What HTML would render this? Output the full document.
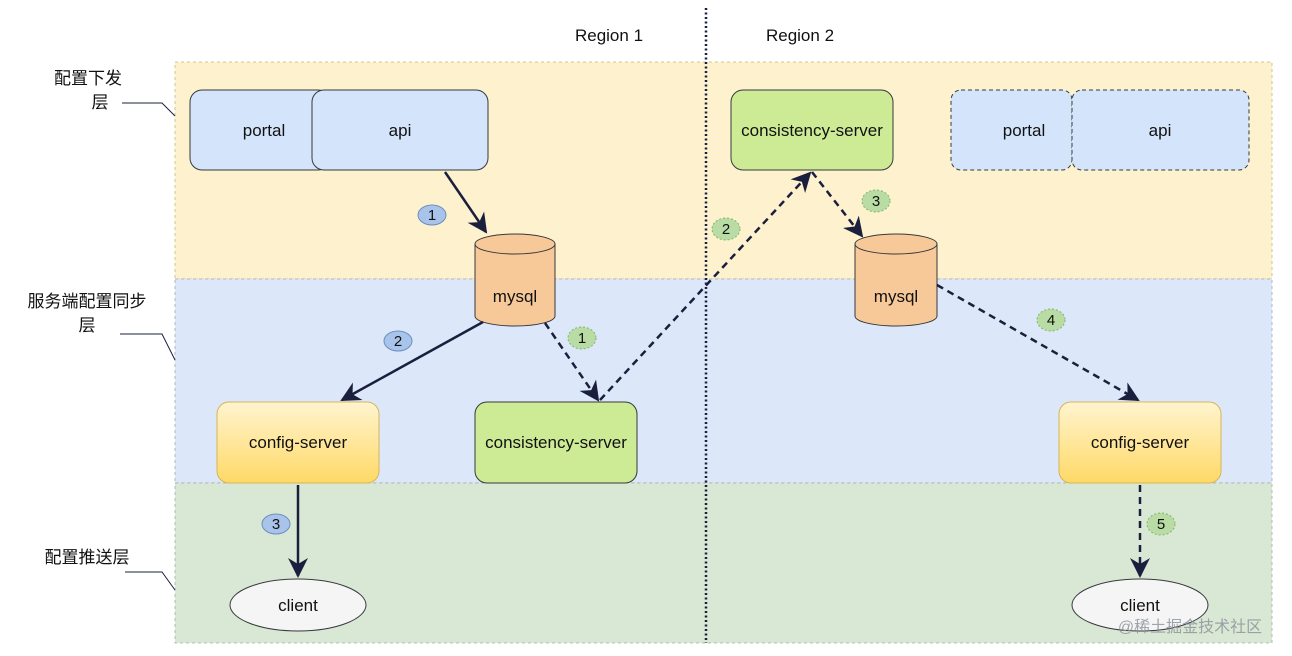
<!DOCTYPE html>
<html><head><meta charset="utf-8"><style>
html,body{margin:0;padding:0;background:#fff;}
svg{display:block;font-family:"Liberation Sans","Noto Sans CJK SC",sans-serif;}
</style></head><body>
<svg width="1292" height="656" viewBox="0 0 1292 656" xmlns="http://www.w3.org/2000/svg">
<defs>
<linearGradient id="cy" x1="0" y1="0" x2="0" y2="1"><stop offset="0" stop-color="#fff4cf"/><stop offset="1" stop-color="#ffd966"/></linearGradient>
<marker id="ah" viewBox="0 0 10 10" refX="9" refY="5" markerWidth="8" markerHeight="8" orient="auto"><path d="M0,0 L10,5 L0,10 L3,5 z" fill="#1a1f3d"/></marker>
</defs>
<rect x="175" y="62" width="1097" height="217" fill="#fdf2cd" stroke="#c8b870" stroke-dasharray="3,3" stroke-width="0.8"/>
<rect x="175" y="279" width="1097" height="204" fill="#dce7f9" stroke="#a0a8b8" stroke-dasharray="3,3" stroke-width="0.8"/>
<rect x="175" y="483" width="1097" height="160" fill="#d9e8d4" stroke="#a0b0a0" stroke-dasharray="3,3" stroke-width="0.8"/>
<line x1="706" y1="8" x2="706" y2="643" stroke="#1a1f3d" stroke-width="2.5" stroke-dasharray="2,2.5"/>
<text x="609" y="41" font-size="17" text-anchor="middle" fill="#111">Region 1</text>
<text x="800" y="41" font-size="17" text-anchor="middle" fill="#111">Region 2</text>
<g font-size="17" fill="#111" text-anchor="middle">
<text x="88" y="84">配置下发</text><text x="100" y="108">层</text>
<text x="87" y="307">服务端配置同步</text><text x="87" y="331">层</text>
<text x="87" y="563">配置推送层</text>
</g>
<g fill="none" stroke="#1a1f3d" stroke-width="1">
<polyline points="122,103 162,103 175,116"/>
<polyline points="120,334 162,334 175,360"/>
<polyline points="125,572 162,572 175,590"/>
</g>
<rect x="190" y="90" width="140" height="80" rx="12" fill="#d4e5fb" stroke="#36393d"/>
<rect x="312" y="90" width="176" height="80" rx="12" fill="#d4e5fb" stroke="#36393d"/>
<rect x="951" y="90" width="121" height="80" rx="10" fill="#d4e5fb" stroke="#36393d" stroke-dasharray="4,3"/>
<rect x="1072" y="90" width="177" height="80" rx="10" fill="#d4e5fb" stroke="#36393d" stroke-dasharray="4,3"/>
<rect x="731" y="90" width="162" height="80" rx="12" fill="#cdeb95" stroke="#36393d"/>
<rect x="475" y="402" width="162" height="81" rx="12" fill="#cdeb95" stroke="#36393d"/>
<rect x="217" y="402" width="162" height="81" rx="12" fill="url(#cy)" stroke="#d6b656"/>
<rect x="1059" y="402" width="162" height="81" rx="12" fill="url(#cy)" stroke="#d6b656"/>
<g fill="#f8c998" stroke="#36393d">
<path d="M475,244 L475,316 A40,10 0 0 0 555,316 L555,244 A40,10 0 0 0 475,244 z"/>
<path d="M475,244 A40,10 0 0 0 555,244"/>
<path d="M855,244 L855,316 A41,10 0 0 0 937,316 L937,244 A41,10 0 0 0 855,244 z"/>
<path d="M855,244 A41,10 0 0 0 937,244"/>
</g>
<ellipse cx="298" cy="605" rx="68" ry="26" fill="#f5f5f5" stroke="#36393d"/>
<ellipse cx="1140" cy="605" rx="68" ry="26" fill="#f5f5f5" stroke="#36393d"/>
<g font-size="17" fill="#111" text-anchor="middle">
<text x="264" y="136">portal</text><text x="400" y="136">api</text>
<text x="1024" y="136">portal</text><text x="1160" y="136">api</text>
<text x="812" y="136">consistency-server</text>
<text x="556" y="448">consistency-server</text>
<text x="298" y="448">config-server</text>
<text x="1140" y="448">config-server</text>
<text x="515" y="302">mysql</text>
<text x="896" y="302">mysql</text>
<text x="298" y="611">client</text>
<text x="1140" y="611">client</text>
</g>
<g stroke="#1a1f3d" stroke-width="2.5" fill="none" marker-end="url(#ah)">
<line x1="445" y1="172" x2="486" y2="232"/>
<line x1="483" y1="322" x2="342" y2="400"/>
<line x1="298" y1="485" x2="298" y2="576"/>
</g>
<g stroke="#1a1f3d" stroke-width="2.5" fill="none" stroke-dasharray="7,5" marker-end="url(#ah)">
<line x1="545" y1="323" x2="598" y2="400"/>
<line x1="600" y1="400" x2="810" y2="173"/>
<line x1="812" y1="172" x2="862" y2="236"/>
<line x1="937" y1="285" x2="1138" y2="400"/>
<line x1="1140" y1="485" x2="1140" y2="576"/>
</g>
<g font-size="15" fill="#111" text-anchor="middle">
<g fill="#a9c4eb" stroke="#6c8ebf"><ellipse cx="432" cy="215" rx="14" ry="10"/><ellipse cx="398" cy="341" rx="14" ry="10"/><ellipse cx="276" cy="524" rx="14" ry="10"/></g>
<text x="432" y="220">1</text><text x="398" y="346">2</text><text x="276" y="529">3</text>
<g fill="#b9dca5" stroke="#82b366" stroke-dasharray="2,2"><ellipse cx="582" cy="338" rx="14" ry="11"/><ellipse cx="726" cy="229" rx="14" ry="11"/><ellipse cx="876" cy="201" rx="14" ry="11"/><ellipse cx="1051" cy="320" rx="14" ry="11"/><ellipse cx="1161" cy="524" rx="14" ry="11"/></g>
<text x="582" y="343">1</text><text x="726" y="234">2</text><text x="876" y="206">3</text><text x="1051" y="325">4</text><text x="1161" y="529">5</text>
</g>
<text x="1190" y="632" font-size="16" fill="#8a8f99" fill-opacity="0.8" text-anchor="middle">@稀土掘金技术社区</text>
</svg>
</body></html>
